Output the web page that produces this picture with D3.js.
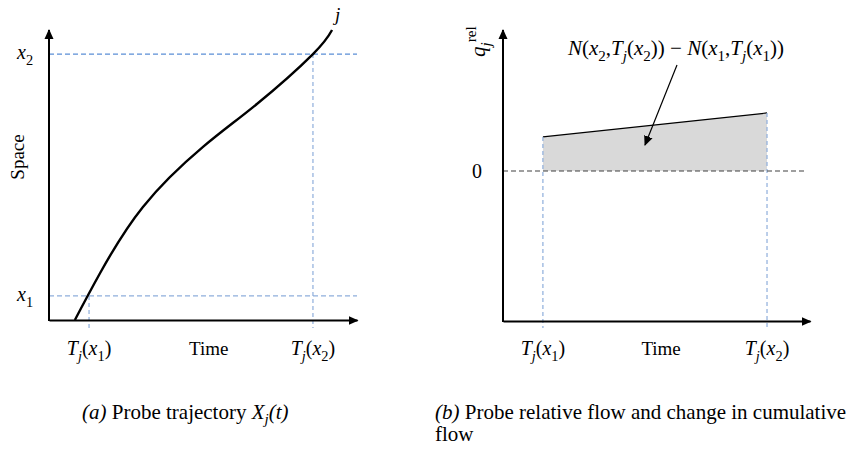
<!DOCTYPE html>
<html>
<head>
<meta charset="utf-8">
<title></title>
<script src="https://d3js.org/d3.v7.min.js"></script>
<style>
body { margin: 0; background: #fff; }
svg { display: block; }
</style>
</head>
<body>
<div id="chart"></div>
<script type="text/javascript">
// panel (a): probe trajectory (time, space)
var trajTime  = [8.4, 16.6, 30.5, 50.0, 67.5, 85.7, 91.9];
var trajSpace = [0, 16.2, 39.0, 59.7, 74.5, 91.7, 100];
var probeTimes  = [13.0, 85.7];   // T_j(x1), T_j(x2)
var probeSpaces = [8.3, 91.7];    // x1, x2
var timeTicks   = ["T_j(x_1)", "Time", "T_j(x_2)"];
var spaceTicks  = ["x_1", "x_2"];

// panel (b): relative flow between the two probe times
var flowTimes  = [13, 86];
var flowValues = [0.227, 0.387];
var flowTicks  = ["T_j(x_1)", "Time", "T_j(x_2)"];

var W = 855, H = 452;
var mathFont = "'Liberation Serif', 'Times New Roman', serif";
var textFont = "'Liberation Serif', 'Times New Roman', serif";
var blue = "#8eaedc", blueDark = "#5b8ed6";

var svg = d3.select("#chart").append("svg")
    .attr("width", W).attr("height", H)
    .attr("font-family", textFont);

svg.append("rect").attr("width", W).attr("height", H).attr("fill", "#fff");

// arrow heads
var defs = svg.append("defs");
defs.append("marker").attr("id", "axisArrow")
    .attr("viewBox", "0 0 10 10").attr("refX", 9).attr("refY", 5)
    .attr("markerWidth", 10).attr("markerHeight", 10)
    .attr("markerUnits", "userSpaceOnUse").attr("orient", "auto")
  .append("path").attr("d", "M0,0.5L10,5L0,9.5Z").attr("fill", "#000");

// small parser: letters italic, "_c" subscript, "^{..}" superscript (upright)
function mathParts(s) {
  var parts = [], i = 0;
  while (i < s.length) {
    var c = s[i];
    if (c === "_") { parts.push({t: s[i + 1], sub: true, it: /[a-z]/i.test(s[i + 1])}); i += 2; }
    else if (c === "^") {
      var end = s.indexOf("}", i);
      parts.push({t: s.slice(i + 2, end), sup: true, it: false}); i = end + 1;
    }
    else { parts.push({t: c, it: /[a-zA-Z]/.test(c)}); i++; }
  }
  return parts;
}

function mathText(sel, s, size) {
  var shift = 0;
  mathParts(s).forEach(function(p) {
    var target = p.sub ? size * 0.28 : p.sup ? -size * 0.42 : 0;
    sel.append("tspan")
      .attr("dy", target - shift)
      .attr("font-size", (p.sub || p.sup) ? size * 0.72 : size)
      .attr("font-style", p.it ? "italic" : "normal")
      .text(p.t);
    shift = target;
  });
  return sel;
}

// ---------------- panel (a) ----------------
var xA = d3.scaleLinear().domain([0, 100]).range([49, 357]);
var yA = d3.scaleLinear().domain([0, 100]).range([320, 30]);

var gA = svg.append("g");

// dashed guide lines
gA.append("line")
    .attr("x1", xA(0)).attr("x2", xA(100))
    .attr("y1", yA(probeSpaces[1])).attr("y2", yA(probeSpaces[1]))
    .attr("stroke", blueDark).attr("stroke-width", 1.2).attr("stroke-dasharray", "5,3");
gA.append("line")
    .attr("x1", xA(0)).attr("x2", xA(100))
    .attr("y1", yA(probeSpaces[0])).attr("y2", yA(probeSpaces[0]))
    .attr("stroke", blue).attr("stroke-width", 1.2).attr("stroke-dasharray", "5,3");
gA.selectAll(".vguide").data(probeTimes).enter().append("line")
    .attr("x1", function(d) { return xA(d); }).attr("x2", function(d) { return xA(d); })
    .attr("y1", function(d, i) { return yA(probeSpaces[i]); })
    .attr("y2", yA(0) + 8)
    .attr("stroke", blue).attr("stroke-width", 1.2).attr("stroke-dasharray", "4,3");

// axes as arrows
gA.append("g").attr("transform", "translate(0," + yA(0) + ")")
    .call(d3.axisBottom(xA).tickValues([]).tickSizeOuter(0))
    .call(function(g) { g.select(".domain").attr("stroke-width", 2).attr("marker-end", "url(#axisArrow)"); });
gA.append("line")
    .attr("x1", xA(0)).attr("x2", xA(0)).attr("y1", yA(0) + 1).attr("y2", yA(100))
    .attr("stroke", "#000").attr("stroke-width", 2).attr("marker-end", "url(#axisArrow)");

// trajectory
var traj = trajTime.map(function(t, i) { return [t, trajSpace[i]]; });
gA.append("path").datum(traj)
    .attr("fill", "none").attr("stroke", "#000").attr("stroke-width", 2.4)
    .attr("d", d3.line()
      .x(function(d) { return xA(d[0]); })
      .y(function(d) { return yA(d[1]); })
      .curve(d3.curveNatural));

mathText(gA.append("text").attr("x", 335).attr("y", 21).attr("font-family", mathFont), "j", 19);

// tick labels
var timePosA = [probeTimes[0], (probeTimes[0] + probeTimes[1]) / 2 + 2.5, probeTimes[1]];
timeTicks.forEach(function(lab, i) {
  var t = gA.append("text").attr("x", xA(timePosA[i])).attr("y", 355)
      .attr("text-anchor", "middle").attr("font-family", mathFont);
  if (lab === "Time") t.attr("font-size", 19).text(lab);
  else mathText(t, lab, 20);
});
spaceTicks.forEach(function(lab, i) {
  mathText(gA.append("text").attr("x", 17).attr("y", yA(probeSpaces[i]) + 5)
      .attr("font-family", mathFont), lab, 20);
});
gA.append("text").attr("transform", "translate(24,157) rotate(-90)")
    .attr("text-anchor", "middle").attr("font-size", 19).text("Space");

// ---------------- panel (b) ----------------
var xB = d3.scaleLinear().domain([0, 100]).range([503, 810]);
var yB = d3.scaleLinear().domain([-1, 0.94]).range([321, 30]);

var gB = svg.append("g");

var area = flowTimes.map(function(t, i) { return [t, flowValues[i]]; });
gB.append("path").datum(area)
    .attr("fill", "#d9d9d9")
    .attr("d", d3.area()
      .x(function(d) { return xB(d[0]); })
      .y0(yB(0))
      .y1(function(d) { return yB(d[1]); }));
gB.append("path").datum(area)
    .attr("fill", "none").attr("stroke", "#000").attr("stroke-width", 1.2)
    .attr("d", d3.line()
      .x(function(d) { return xB(d[0]); })
      .y(function(d) { return yB(d[1]); }));

gB.selectAll(".vguide").data(flowTimes).enter().append("line")
    .attr("x1", function(d) { return xB(d); }).attr("x2", function(d) { return xB(d); })
    .attr("y1", function(d, i) { return yB(flowValues[i]); })
    .attr("y2", yB(-1) + 7)
    .attr("stroke", blue).attr("stroke-width", 1.2).attr("stroke-dasharray", "4,3");

gB.append("line")
    .attr("x1", xB(0)).attr("x2", xB(99))
    .attr("y1", yB(0)).attr("y2", yB(0))
    .attr("stroke", "#404040").attr("stroke-width", 1.2).attr("stroke-dasharray", "5,3");

gB.append("g").attr("transform", "translate(0," + yB(-1) + ")")
    .call(d3.axisBottom(xB).tickValues([]).tickSizeOuter(0))
    .call(function(g) { g.select(".domain").attr("stroke-width", 2).attr("marker-end", "url(#axisArrow)"); });
gB.append("line")
    .attr("x1", xB(0)).attr("x2", xB(0)).attr("y1", yB(-1) + 1).attr("y2", yB(0.94))
    .attr("stroke", "#000").attr("stroke-width", 2).attr("marker-end", "url(#axisArrow)");

gB.append("text").attr("x", 477).attr("y", yB(0) + 7)
    .attr("text-anchor", "middle").attr("font-size", 20).text("0");

var timePosB = [flowTimes[0], (flowTimes[0] + flowTimes[1]) / 2 + 2, flowTimes[1]];
flowTicks.forEach(function(lab, i) {
  var t = gB.append("text").attr("x", xB(timePosB[i])).attr("y", 355)
      .attr("text-anchor", "middle").attr("font-family", mathFont);
  if (lab === "Time") t.attr("font-size", 19).text(lab);
  else mathText(t, lab, 20);
});

mathText(gB.append("text").attr("transform", "translate(485,57) rotate(-90)")
    .attr("font-family", mathFont), "q_j^{rel}", 21);

// annotation
mathText(gB.append("text").attr("x", 676).attr("y", 55)
    .attr("text-anchor", "middle").attr("font-family", mathFont),
    "N(x_2,T_j(x_2)) \u2212 N(x_1,T_j(x_1))", 21);
gB.append("line")
    .attr("x1", 677).attr("y1", 65).attr("x2", 645).attr("y2", 145)
    .attr("stroke", "#000").attr("stroke-width", 1.2).attr("marker-end", "url(#axisArrow)");

// ---------------- captions ----------------
var capA = svg.append("text").attr("x", 82).attr("y", 419).attr("font-size", 21);
capA.append("tspan").attr("font-style", "italic").text("(a)");
capA.append("tspan").text(" Probe trajectory ");
capA.append("tspan").attr("font-style", "italic").text("X");
capA.append("tspan").attr("font-style", "italic").attr("font-size", 15).attr("dy", 5).text("j");
capA.append("tspan").attr("font-style", "italic").attr("dy", -5).text("(t)");

var capB = svg.append("text").attr("x", 435).attr("y", 419).attr("font-size", 21);
capB.append("tspan").attr("font-style", "italic").text("(b)");
capB.append("tspan").text(" Probe relative flow and change in cumulative");
svg.append("text").attr("x", 435).attr("y", 441).attr("font-size", 21).text("flow");
</script>
</body>
</html>
